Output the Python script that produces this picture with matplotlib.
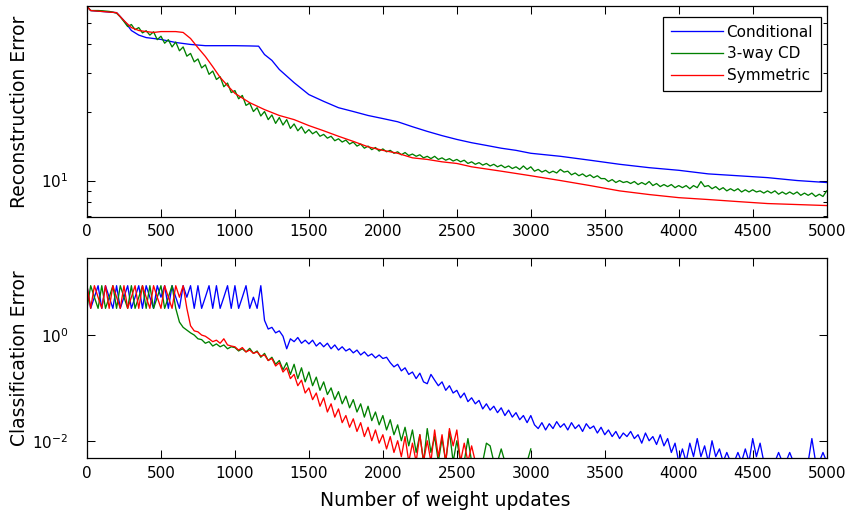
import numpy as np
import matplotlib
matplotlib.use("Agg")
import matplotlib.pyplot as plt
from matplotlib.ticker import NullFormatter, NullLocator, FixedLocator

plt.rcParams['font.family'] = ['DejaVu Sans']
plt.rcParams['mathtext.default'] = 'regular'

series_names = ["Conditional", "3-way CD", "Symmetric"]
series_colors = ["#0000FF", "#008000", "#FF0000"]

# ---------------- Reconstruction error (top panel) ----------------
recon_cond_x = [0, 25, 200, 250, 300, 350, 400,
                500, 600, 700, 800, 900, 1000, 1100,
                1160, 1200, 1250,
                1300, 1400, 1500, 1600, 1700, 1800, 1900, 2000, 2100, 2200,
                2300, 2400, 2500, 2600, 2700, 2800, 2900, 3000,
                3200, 3400, 3600, 3800, 4000, 4200, 4400, 4600, 4800, 5000]
recon_cond = [58.9, 56.5, 55.3, 51.0, 46.1, 44.0, 42.9,
              42.1, 40.8, 40.0, 39.5, 39.5, 39.5, 39.4,
              39.3, 36.1, 34.0,
              31.0, 27.1, 24.0, 22.4, 21.0, 20.2, 19.4, 18.8, 18.2, 17.3,
              16.5, 15.8, 15.2, 14.7, 14.3, 13.9, 13.6, 13.2,
              12.8, 12.3, 11.8, 11.4, 11.1, 10.7, 10.5, 10.3, 10.0, 9.8]

recon_sym_x = [0, 25,
               200, 250, 300, 350, 400, 450, 500, 550, 600, 650, 700, 750, 800, 850, 900, 950, 1000,
               1100, 1200, 1300, 1400, 1500, 1600, 1700, 1800, 1900, 2000, 2100, 2200, 2300, 2400, 2500, 2600,
               2800, 3000, 3200, 3400, 3600, 3800, 4000, 4200, 4400, 4600, 4800, 5000]
recon_sym = [58.9, 56.5,
             55.3, 51.0, 47.5, 46.1, 45.6, 45.2, 45.6, 45.6, 45.6, 45.2, 42.5, 38.7, 35.4, 31.9, 28.6, 26.3, 24.3,
             22.1, 20.6, 19.4, 18.6, 17.5, 16.6, 15.7, 14.9, 14.1, 13.6, 13.2, 12.6, 12.4, 12.1, 11.9, 11.5,
             11.0, 10.5, 10.0, 9.5, 9.0, 8.67, 8.4, 8.24, 8.07, 7.91, 7.83, 7.75]

# sampled every 25 weight updates, 0 .. 5000
updates = list(range(0, 5001, 25))
recon_3way = [
    58.9, 56.5, 56.5, 56.5, 56.4, 56.2, 56.0, 55.6, 55.0, 53.0, 50.5, 48.0, 49.0, 46.5, 47.5, 45.0, 46.0, 44.0, 45.5, 42.0,
    43.5, 40.5, 42.0, 39.0, 41.0, 37.5, 39.0, 35.5, 36.5, 33.5, 34.5, 31.5, 32.5, 29.5, 30.5, 28.0, 28.8, 26.0, 27.0, 24.5,
    25.0, 23.0, 23.8, 21.5, 22.0, 20.2, 21.0, 19.3, 20.2, 18.6, 19.5, 17.9, 19.0, 17.6, 18.6, 17.0, 17.8, 16.6, 17.3, 16.2,
    16.8, 16.1, 16.5, 15.7, 16.0, 15.4, 15.7, 15.0, 15.3, 14.8, 15.1, 14.5, 14.8, 14.2, 14.5, 13.9, 14.2, 13.7, 14.0, 13.5,
    13.8, 13.4, 13.6, 13.2, 13.4, 13.0, 13.3, 12.9, 13.1, 12.8, 13.0, 12.6, 12.8, 12.5, 12.8, 12.4, 12.6, 12.3, 12.5, 12.2,
    12.4, 12.1, 12.3, 11.9, 12.1, 11.8, 12.0, 11.7, 11.9, 11.6, 11.8, 11.5, 11.7, 11.4, 11.6, 11.3, 11.5, 11.2, 11.6, 11.2,
    11.5, 11.0, 11.2, 10.9, 11.1, 10.8, 11.0, 10.8, 11.2, 10.9, 11.0, 10.6, 10.8, 10.5, 10.7, 10.4, 10.6, 10.3, 10.5, 10.2,
    10.2, 9.9, 10.1, 9.8, 10.0, 9.8, 9.9, 9.7, 9.9, 9.6, 9.8, 9.6, 9.9, 9.5, 9.7, 9.4, 9.6, 9.4, 9.6, 9.3,
    9.5, 9.3, 9.5, 9.2, 9.5, 9.3, 9.9, 9.4, 9.5, 9.2, 9.4, 9.1, 9.3, 9.0, 9.2, 9.0, 9.2, 8.9, 9.1, 8.9,
    9.1, 8.9, 9.0, 8.8, 9.0, 8.8, 9.0, 8.7, 8.9, 8.7, 8.9, 8.7, 8.9, 8.6, 8.8, 8.6, 8.8, 8.5, 8.7, 8.5,
    9.0]

# ---------------- Classification error (bottom panel) ----------------
# 0 means zero error (not drawn on the log axis)
class_cond = [
    8.6, 3.2, 5.2, 8.6, 3.2, 8.6, 5.2, 3.2, 8.6, 3.2, 5.2, 8.6, 3.2, 5.2, 8.6, 3.2, 8.6, 5.2, 3.2, 8.6,
    5.2, 8.6, 3.2, 8.6, 5.2, 3.2, 8.6, 5.2, 8.6, 3.2, 8.6, 3.2, 5.2, 8.6, 3.2, 8.6, 3.2, 5.2, 8.6, 3.2,
    8.6, 3.2, 5.2, 8.6, 3.2, 5.2, 3.2, 8.6, 1.9, 1.3, 1.4, 1.1, 1.2, 0.95, 0.55, 0.85, 0.75, 0.9, 0.7, 0.8,
    0.68, 0.8, 0.62, 0.72, 0.6, 0.7, 0.55, 0.65, 0.52, 0.6, 0.5, 0.55, 0.46, 0.52, 0.42, 0.48, 0.4, 0.44, 0.37, 0.42,
    0.36, 0.38, 0.3, 0.25, 0.28, 0.21, 0.24, 0.18, 0.2, 0.15, 0.19, 0.13, 0.12, 0.18, 0.14, 0.11, 0.13, 0.09, 0.11, 0.08,
    0.09, 0.065, 0.08, 0.055, 0.065, 0.05, 0.058, 0.04, 0.05, 0.038, 0.045, 0.034, 0.042, 0.03, 0.038, 0.028, 0.034, 0.025, 0.03, 0.022,
    0.03, 0.02, 0.017, 0.022, 0.016, 0.021, 0.017, 0.023, 0.018, 0.021, 0.016, 0.022, 0.017, 0.02, 0.015, 0.021, 0.017, 0.019, 0.014, 0.018,
    0.013, 0.016, 0.012, 0.015, 0.011, 0.014, 0.012, 0.015, 0.011, 0.013, 0.009, 0.014, 0.01, 0.012, 0.0085, 0.013, 0.008, 0.011, 0.006, 0.009,
    0.004, 0.007, 0.004, 0.009, 0.005, 0.011, 0.005, 0.008, 0.004, 0.01, 0.005, 0.007, 0.004, 0.006, 0.004, 0.004, 0.006, 0.004, 0.007, 0.004,
    0.011, 0.005, 0.009, 0.004, 0.004, 0.004, 0.004, 0.006, 0.004, 0.004, 0.006, 0.004, 0.004, 0.004, 0.004, 0.004, 0.011, 0.004, 0.004, 0.006,
    0.004]

class_3way = [
    3.2, 8.6, 5.2, 3.2, 8.6, 3.2, 5.2, 8.6, 3.2, 8.6, 5.2, 3.2, 8.6, 3.2, 5.2, 8.6, 3.2, 8.6, 3.2, 5.2,
    8.6, 3.2, 5.2, 8.6, 3.2, 1.76, 1.4, 1.24, 1.1, 1.0, 0.85, 0.82, 0.7, 0.75, 0.62, 0.68, 0.6, 0.65, 0.55, 0.6,
    0.58, 0.5, 0.55, 0.48, 0.56, 0.45, 0.5, 0.38, 0.45, 0.33, 0.38, 0.28, 0.33, 0.22, 0.3, 0.18, 0.28, 0.15, 0.24, 0.13,
    0.2, 0.11, 0.16, 0.09, 0.13, 0.075, 0.1, 0.06, 0.085, 0.05, 0.07, 0.042, 0.06, 0.035, 0.05, 0.028, 0.045, 0.024, 0.035, 0.02,
    0.03, 0.016, 0.025, 0.013, 0.02, 0.01, 0.018, 0.008, 0.016, 0.006, 0.013, 0.004, 0.017, 0.006, 0.012, 0.004, 0.011, 0.004, 0.015, 0.004,
    0.01, 0.004, 0.004, 0.011, 0.004, 0.004, 0.004, 0.004, 0.009, 0.008, 0.004, 0.004, 0.007, 0.004, 0.004, 0.004, 0.004, 0.004, 0.004, 0.004,
    0.007, 0, 0, 0, 0, 0, 0, 0, 0, 0, 0, 0, 0, 0, 0, 0, 0, 0, 0, 0,
    0, 0, 0, 0, 0, 0, 0, 0, 0, 0, 0, 0, 0, 0, 0, 0, 0, 0, 0, 0,
    0, 0, 0, 0, 0, 0, 0, 0, 0, 0, 0, 0, 0, 0, 0, 0, 0, 0, 0, 0,
    0, 0, 0, 0, 0, 0, 0, 0, 0, 0, 0, 0, 0, 0, 0, 0, 0, 0, 0, 0,
    0]

class_sym = [
    8.6, 3.2, 8.6, 5.2, 3.2, 8.6, 3.2, 8.6, 5.2, 3.2, 8.6, 3.2, 5.2, 8.6, 3.2, 8.6, 5.2, 3.2, 8.6, 5.2,
    3.2, 8.6, 5.2, 3.2, 8.6, 5.2, 8.6, 3.2, 1.5, 1.2, 1.15, 1.0, 0.95, 0.85, 0.75, 0.8, 0.7, 0.85, 0.65, 0.62,
    0.6, 0.52, 0.58, 0.48, 0.52, 0.45, 0.48, 0.4, 0.42, 0.33, 0.36, 0.26, 0.3, 0.2, 0.24, 0.15, 0.18, 0.11, 0.14, 0.08,
    0.1, 0.06, 0.08, 0.045, 0.065, 0.035, 0.05, 0.028, 0.04, 0.022, 0.03, 0.018, 0.026, 0.015, 0.022, 0.012, 0.018, 0.01, 0.016, 0.009,
    0.013, 0.007, 0.012, 0.006, 0.01, 0.005, 0.012, 0.004, 0.009, 0.004, 0.013, 0.004, 0.01, 0.004, 0.016, 0.005, 0.013, 0.004, 0.017, 0.008,
    0.016, 0.004, 0.009, 0.004, 0.008, 0.004, 0, 0, 0, 0, 0, 0, 0, 0, 0, 0, 0, 0, 0, 0,
    0, 0, 0, 0, 0, 0, 0, 0, 0, 0, 0, 0, 0, 0, 0, 0, 0, 0, 0, 0,
    0, 0, 0, 0, 0, 0, 0, 0, 0, 0, 0, 0, 0, 0, 0, 0, 0, 0, 0, 0,
    0, 0, 0, 0, 0, 0, 0, 0, 0, 0, 0, 0, 0, 0, 0, 0, 0, 0, 0, 0,
    0, 0, 0, 0, 0, 0, 0, 0, 0, 0, 0, 0, 0, 0, 0, 0, 0, 0, 0, 0,
    0]

x_ticks = [0, 500, 1000, 1500, 2000, 2500, 3000, 3500, 4000, 4500, 5000]


def masked(v):
    a = np.asarray(v, dtype=float)
    return np.where(a > 0, a, np.nan)


fig = plt.figure(figsize=(8.47, 5.17), dpi=100)
ax1 = fig.add_axes([0.1027, 0.5809, 0.8733, 0.4066])
ax2 = fig.add_axes([0.1027, 0.1135, 0.8733, 0.3868])

lw = 0.95
ax1.plot(recon_cond_x, recon_cond, color=series_colors[0], lw=lw, label=series_names[0])
ax1.plot(updates, recon_3way, color=series_colors[1], lw=lw, label=series_names[1])
ax1.plot(recon_sym_x, recon_sym, color=series_colors[2], lw=lw, label=series_names[2])

for vals, col in zip((class_cond, class_3way, class_sym), series_colors):
    ax2.plot(updates, masked(vals), color=col, lw=lw)

for ax in (ax1, ax2):
    ax.set_yscale('log')
    ax.set_xlim(0, 5000)
    ax.set_xticks(x_ticks)
    ax.tick_params(which='both', direction='in', top=True, right=True,
                   width=0.75, colors='black', labelsize=11)
    ax.tick_params(which='major', length=5.5)
    ax.tick_params(which='minor', length=2.6)
    ax.tick_params(axis='x', pad=5.5)
    ax.tick_params(axis='y', pad=13.5)
    for s in ax.spines.values():
        s.set_linewidth(0.9)
        s.set_color('black')

ax1.set_ylim(6.92, 58.9)
ax1.yaxis.set_minor_formatter(NullFormatter())
ax2.set_ylim(0.00465, 28.3)
ax2.yaxis.set_major_locator(FixedLocator([1e-2, 1e0]))
ax2.yaxis.set_minor_locator(NullLocator())

ax1.set_ylabel("Reconstruction Error", fontsize=13.5)
ax1.yaxis.set_label_coords(-0.0785, 0.5)
ax2.set_ylabel("Classification Error", fontsize=13.5)
ax2.yaxis.set_label_coords(-0.0785, 0.5)
ax2.set_xlabel("Number of weight updates", fontsize=13.5)
ax2.xaxis.set_label_coords(0.485, -0.165)

leg = ax1.legend(loc='upper right', bbox_to_anchor=(0.9919, 0.95), borderaxespad=0,
                 fontsize=11, handlelength=3.45, handletextpad=0.2, borderpad=0.5,
                 labelspacing=0.45, frameon=True, fancybox=False, framealpha=1)
leg.get_frame().set_edgecolor('black')
leg.get_frame().set_linewidth(0.9)

fig.savefig("out.png", dpi=100)
